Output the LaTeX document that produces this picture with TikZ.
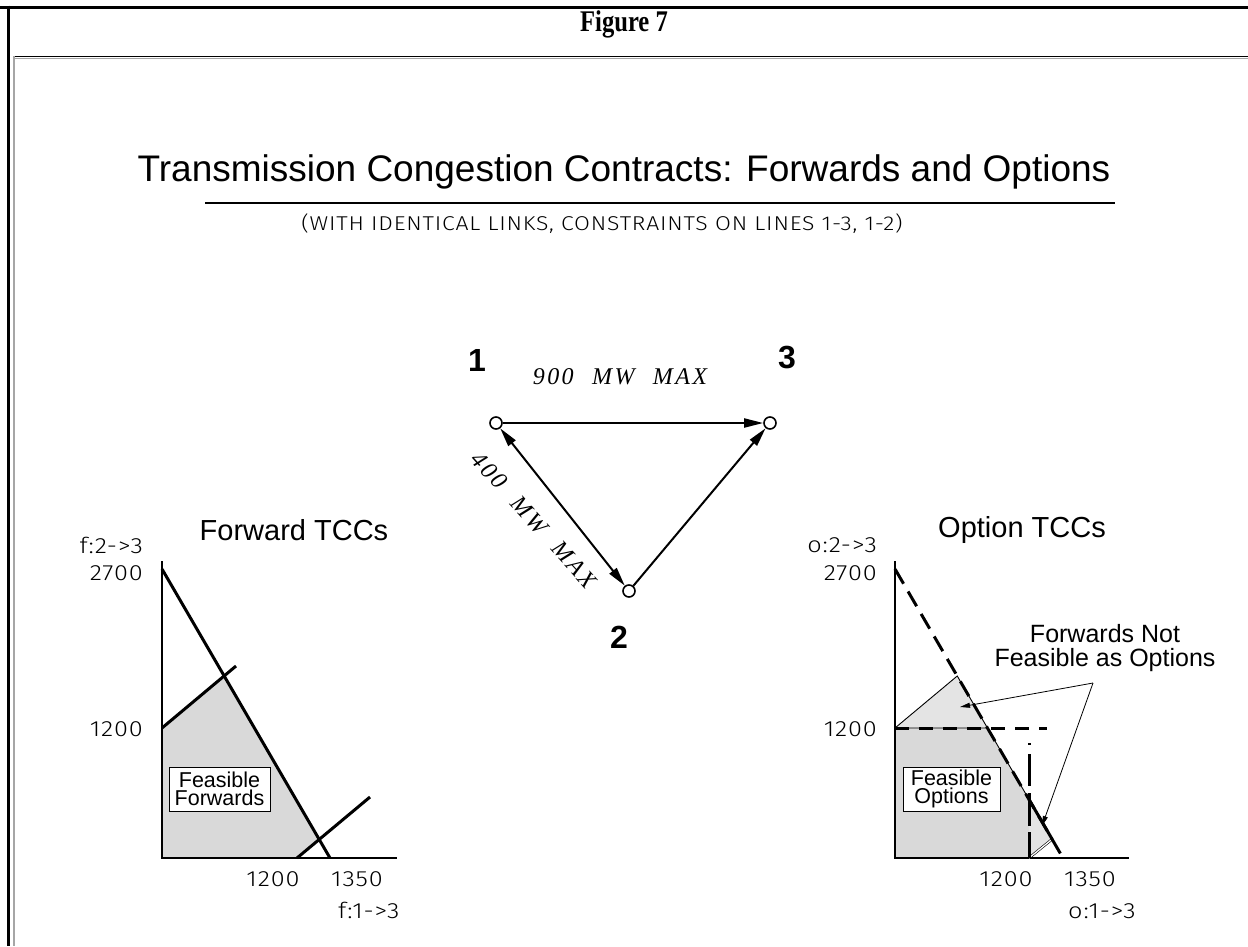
\documentclass[tikz,border=0pt]{standalone}
\usepackage{fontspec}
\setmainfont{Liberation Sans}
\newfontfamily\cadfont{Fira Sans Light}[FakeStretch=1.15,LetterSpace=4]
\newfontfamily\figfont{Liberation Serif}[FakeStretch=0.82]
\newfontfamily\mwfont{Liberation Serif}[LetterSpace=10,WordSpace=2.2]
\usetikzlibrary{arrows.meta}
\definecolor{feas}{HTML}{D9D9D9}
\definecolor{feaslight}{HTML}{E4E4E4}
\tikzset{
  cad/.style={font=\cadfont\fontsize{#1}{#1}\selectfont, inner sep=0pt},
  sans/.style={font=\fontsize{#1}{#1}\selectfont, inner sep=0pt},
  tri/.style={line width=2pt},
  bigtip/.tip={Triangle[length=19pt,width=9pt]},
  smalltip/.tip={Triangle[length=10pt,width=5pt]},
  stationnode/.style={circle, draw, line width=1.6pt, minimum size=12pt, inner sep=0pt, fill=white},
  stationlabel/.style={font=\bfseries\fontsize{32}{32}\selectfont, inner sep=0pt},
  caplabel/.style={font=\mwfont\itshape\fontsize{24}{24}\selectfont, inner sep=0pt},
  boundary/.style={line width=3pt},
  dashbound/.style={line width=3pt, dash pattern=on 17pt off 9pt},
  axisline/.style={line width=1.3pt},
  boxlabel/.style={draw, line width=0.8pt, fill=white, align=center, inner sep=0pt,
    font=\fontsize{21.5}{18.5}\selectfont, minimum height=44pt},
  leader/.style={line width=0.8pt, -smalltip},
}
\begin{document}
\begin{tikzpicture}[x=1pt,y=-1pt]
\useasboundingbox (0,0) rectangle (1248,946);
\fill[white] (0,0) rectangle (1248,946);

% frame
\draw[line width=3pt] (0,7) -- (1248,7);
\draw[line width=3pt] (8.5,5.5) -- (8.5,946);
\draw[line width=1.3pt] (13.5,56.5) -- (1248,56.5);
\draw[gray!70,line width=1pt] (14.5,58) -- (1248,58);
\draw[gray!70,line width=1.6pt] (14,56) -- (14,946);

\node[font=\figfont\bfseries\fontsize{30}{30}\selectfont, inner sep=0pt, anchor=base] (fig) at (624,31) {Figure 7};

% titles
\node[sans=37, anchor=base] (title) at (624,181) {Transmission Congestion Contracts: Forwards and Options};
\draw[line width=2pt] (205,202.5) -- (1115,202.5);
\node[cad=20, anchor=base] (sub) at (602,230) {(WITH IDENTICAL LINKS, CONSTRAINTS ON LINES 1-3, 1-2)};

% network
\node[stationnode] (n1) at (496,423) {};
\node[stationnode] (n3) at (770,423) {};
\node[stationnode] (n2) at (629,591) {};
\draw[tri,-bigtip] (n1) -- (n3);
\draw[tri,bigtip-bigtip] (n1) -- (n2);
\draw[tri,-bigtip] (n2) -- (n3);
\node[stationlabel] (l1) at (477,360) {1};
\node[stationlabel] (l3) at (787,358) {3};
\node[stationlabel] (l2) at (619,637) {2};
\node[caplabel] (c13) at (620,377) {900 MW MAX};
\node[caplabel, rotate=-48] (c12) at (534,520) {400 MW MAX};

% ---------- left plot: Forward TCCs ----------
\coordinate (LO) at (162,858);
\coordinate (LYt) at (162,561);
\coordinate (LXr) at (397,858);
\coordinate (Ls1) at (162,569);
\coordinate (Ls2) at (330,858);
\coordinate (La1) at (162,728);
\coordinate (La2) at (236,666);
\coordinate (Lb1) at (297,858);
\coordinate (Lb2) at (370,797);
\coordinate (LP) at (intersection of La1--La2 and Ls1--Ls2);
\coordinate (LQ) at (intersection of Lb1--Lb2 and Ls1--Ls2);
\fill[feas] (LO) -- (La1) -- (LP) -- (LQ) -- (Lb1) -- cycle;
\draw[axisline] (LYt) -- (LO) -- (LXr);
\draw[boundary] (Ls1) -- (Ls2);
\draw[boundary] (La1) -- (La2);
\draw[boundary] (Lb1) -- (Lb2);
\node[boxlabel, minimum width=101pt] (ff) at (219.5,789) {Feasible\\Forwards};
\node[sans=29] (lt) at (294,530) {Forward TCCs};
\node[cad=22, anchor=east] (lya) at (143,545) {f:2->3};
\node[cad=22, anchor=east] (ly1) at (143,573) {2700};
\node[cad=22, anchor=east] (ly2) at (143,729) {1200};
\node[cad=22] (lx1) at (273,879) {1200};
\node[cad=22] (lx2) at (357,879) {1350};
\node[cad=22, anchor=west] (lxa) at (338,910) {f:1->3};

% ---------- right plot: Option TCCs ----------
\coordinate (RO) at (895,858);
\coordinate (RYt) at (895,561);
\coordinate (RXr) at (1129,858);
\coordinate (Rs1) at (895,569);
\coordinate (Rs2) at (1063,858);
\coordinate (Ra1) at (895,728);
\coordinate (Ra2) at (969,666);
\coordinate (Rh2) at (1047,728);
\coordinate (Rv1) at (1029,743);
\coordinate (Rv0) at (1029,858);
\coordinate (Rb2) at (1103,797);
\coordinate (RP) at (intersection of Ra1--Ra2 and Rs1--Rs2);
\coordinate (RH) at (intersection of Ra1--Rh2 and Rs1--Rs2);
\coordinate (RV) at (intersection of Rv1--Rv0 and Rs1--Rs2);
\coordinate (RQ) at (intersection of Rv0--Rb2 and Rs1--Rs2);
\fill[feaslight] (Ra1) -- (RP) -- (RH) -- cycle;
\fill[feaslight] (RV) -- (RQ) -- (Rv0) -- cycle;
\fill[feas] (RO) -- (Ra1) -- (RH) -- (RV) -- (Rv0) -- cycle;
\draw[axisline] (RYt) -- (RO) -- (RXr);
\draw[line width=0.9pt] (Ra1) -- (RP) -- (RV);
\draw[line width=0.9pt] (Ra1) -- (RH);
\draw[line width=0.6pt, double, double distance=1.3pt] (Rv0) -- (RQ);
\draw[boundary] (RV) -- (RQ);
\draw[dashbound] (Rs1) -- (Rs2);
\draw[line width=3pt, dash pattern=on 14pt off 10pt] (Ra1) -- (Rh2);
\draw[line width=3pt, dash pattern=on 2pt off 9pt on 32pt off 7pt on 33pt off 6pt on 40pt off 2pt] (Rv1) -- (Rv0);
\node[boxlabel, minimum width=97pt] (fo) at (951.5,789) {Feasible\\Options};
\node[sans=29] (rt) at (1022,530) {Option TCCs};
\node[cad=22, anchor=east] (rya) at (877,545) {o:2->3};
\node[cad=22, anchor=east] (ry1) at (877,573) {2700};
\node[cad=22, anchor=east] (ry2) at (877,729) {1200};
\node[cad=22] (rx1) at (1006,879) {1200};
\node[cad=22] (rx2) at (1090,879) {1350};
\node[cad=22, anchor=west] (rxa) at (1068,911) {o:1->3};

\node[font=\fontsize{25}{23.5}\selectfont, align=center, inner sep=0pt] (fnf) at (1105,648) {Forwards Not\\Feasible as Options};
\coordinate (fork) at (1093,683);
\coordinate (tipA) at (960,707);
\coordinate (tipB) at (1042,826);
\draw[leader] (fork) -- (tipA);
\draw[leader] (fork) -- (tipB);
\end{tikzpicture}
\end{document}
